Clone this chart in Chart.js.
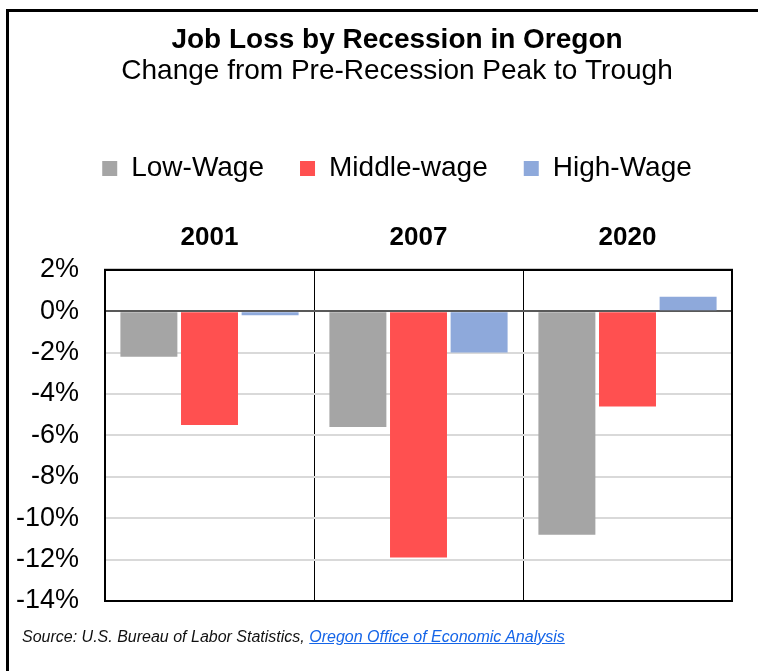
<!DOCTYPE html>
<html>
<head>
<meta charset="utf-8">
<title>Job Loss by Recession in Oregon</title>
<script src="https://cdn.jsdelivr.net/npm/chart.js@4"></script>
<style>
  html, body { margin: 0; padding: 0; background: #fff; overflow: hidden; }
  #wrap { position: relative; width: 758px; height: 671px; }
  #frame {
    position: absolute; left: 6px; top: 9px; width: 800px; height: 700px;
    border-left: 3px solid #000; border-top: 3px solid #000;
  }
  #chart { position: absolute; left: 0; top: 0; }
  #source {
    position: absolute; left: 22px; top: 628px;
    font: italic 16px 'Liberation Sans', Arial, sans-serif; color: #111;
    white-space: nowrap;
  }
  #source a { color: #1565E8; text-decoration: underline; }
</style>
</head>
<body>
<div id="wrap">
  <div id="frame"></div>
  <canvas id="chart" width="758" height="671"></canvas>
  <div id="source">Source: U.S. Bureau of Labor Statistics, <a href="#">Oregon Office of Economic Analysis</a></div>
</div>
<script>
// recessions and peak-to-trough job change (%) by wage tier
const recesiones = ['2001', '2007', '2020'];
const bajos = [-2.2, -5.6, -10.8];
const medios = [-5.5, -11.9, -4.6];
const altos = [-0.2, -2.0, 0.7];
const ticksY = [-14, -12, -10, -8, -6, -4, -2, 0, 2];

const fuente = "'Liberation Sans', Arial, sans-serif";

// closes the plot area on the right and bottom
const marco = {
  id: 'marco',
  afterDatasetsDraw(chart) {
    const { ctx, chartArea: a } = chart;
    ctx.save();
    ctx.strokeStyle = '#000';
    ctx.lineWidth = 2;
    ctx.strokeRect(a.left, a.top, a.right - a.left, a.bottom - a.top);
    ctx.restore();
  }
};

// the y axis is kept narrow, so let its labels spill past its box
const sinRecorte = {
  id: 'sinRecorte',
  beforeDraw(chart) {
    chart.scales.y._computeLabelArea = () => null;
  }
};

const ctx = document.getElementById('chart');
new Chart(ctx, {
  type: 'bar',
  data: {
    labels: recesiones,
    datasets: [
      { label: 'Low-Wage', data: bajos, backgroundColor: '#A5A5A5' },
      { label: 'Middle-wage', data: medios, backgroundColor: '#FF5050' },
      { label: 'High-Wage', data: altos, backgroundColor: '#8EA9DB' }
    ]
  },
  options: {
    responsive: false,
    animation: false,
    categoryPercentage: 0.87,
    barPercentage: 0.94,
    layout: { padding: { left: 62, right: 26, top: 0, bottom: 70 } },
    plugins: {
      tooltip: { enabled: false },
      title: {
        display: true,
        text: 'Job Loss by Recession in Oregon',
        color: '#000',
        font: { family: fuente, size: 28, weight: 'bold', lineHeight: 1.1 },
        padding: { top: 25, bottom: 0 }
      },
      subtitle: {
        display: true,
        text: 'Change from Pre-Recession Peak to Trough',
        color: '#000',
        font: { family: fuente, size: 28, lineHeight: 1.1 },
        padding: { top: 0, bottom: 32 }
      },
      legend: {
        position: 'top',
        labels: {
          color: '#000',
          font: { family: fuente, size: 28 },
          boxWidth: 15,
          boxHeight: 15,
          padding: 36
        }
      }
    },
    scales: {
      x: {
        position: 'top',
        afterFit(scale) { scale.height += 14; },
        grid: { offset: true, color: '#000', lineWidth: 1, drawTicks: false },
        border: { display: true, color: '#000', width: 2 },
        ticks: {
          color: '#000',
          padding: 16,
          font: { family: fuente, size: 26, weight: 'bold' }
        }
      },
      y: {
        min: -14,
        max: 2,
        afterBuildTicks(scale) {
          scale.ticks = ticksY.map(v => ({ value: v }));
        },
        afterFit(scale) { scale.width = 43; },
        grid: {
          drawTicks: false,
          lineWidth: 2,
          color: c => c.tick && c.tick.value === 0 ? '#595959' : '#D9D9D9'
        },
        border: { display: true, color: '#000', width: 2 },
        ticks: {
          color: '#000',
          padding: 26,
          font: { family: fuente, size: 27 },
          callback: v => v + '%'
        }
      }
    }
  },
  plugins: [marco, sinRecorte]
});
</script>
</body>
</html>
